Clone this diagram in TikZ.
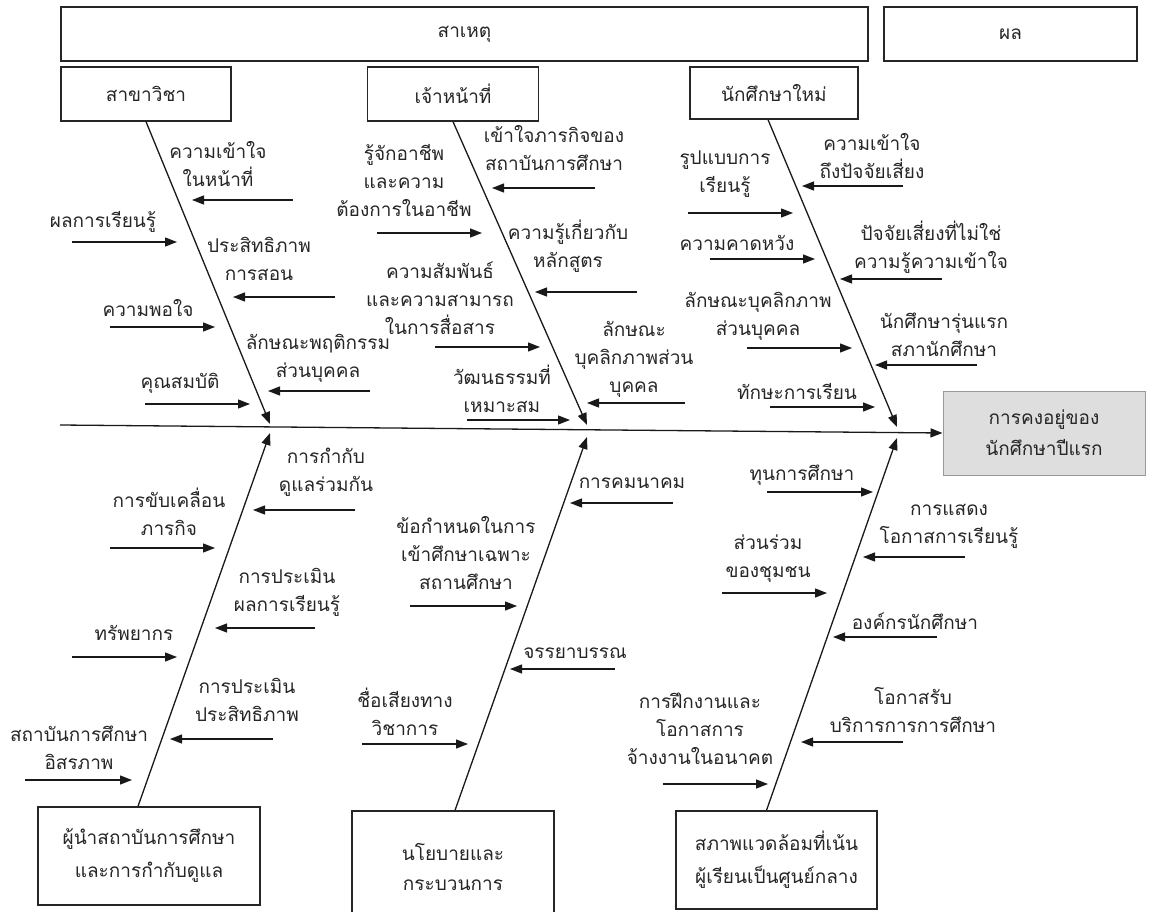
\documentclass[tikz,border=0pt]{standalone}
\usepackage{fontspec}
\newfontfamily\thaifont[Script=Thai]{Loma}
\usetikzlibrary{arrows.meta,calc}
\tikzset{
  tip/.style={-{Triangle[length=12pt,width=9pt]}},
  arr/.style={tip, line width=1.3pt, black!90},
  bone/.style={tip, line width=1.3pt, black!90},
  lbl/.style={font=\thaifont\fontsize{19}{28}\selectfont, align=center, text=black!85, inner sep=0pt},
  box/.style={draw=black!85, line width=1.3pt, fill=white, font=\thaifont\fontsize{19}{33}\selectfont, align=center, text=black!85, inner sep=0pt, anchor=center},
  res/.style={draw=black!40, line width=1pt, fill=black!13, font=\thaifont\fontsize{19}{31}\selectfont, align=center, text=black!85, inner sep=0pt}
}
\begin{document}
\begin{tikzpicture}[x=1pt,y=-1pt]
\useasboundingbox (0,0) rectangle (1149,912);
% header boxes
\node[box, minimum width=807, minimum height=54] (cause) at (464.5,34) {สาเหตุ};
\node[box, minimum width=253, minimum height=54] (effect) at (1010.5,34) {ผล};
\node[box, minimum width=170, minimum height=54] (c1) at (146,94) {สาขาวิชา};
\node[box, minimum width=171, minimum height=54] (c2) at (453,94) {เจ้าหน้าที่};
\node[box, minimum width=168, minimum height=52] (c3) at (774,93) {นักศึกษาใหม่};
% bottom boxes
\node[box, minimum width=222, minimum height=98] (b1) at (149,856) {ผู้นำสถาบันการศึกษา\\และการกำกับดูแล};
\node[box, minimum width=202, minimum height=110] (b2) at (453,866) {};
\node[lbl, font=\thaifont\fontsize{19}{30}\selectfont] (b2t) at (453,867) {นโยบายและ\\กระบวนการ};
\node[box, minimum width=201, minimum height=98] (b3) at (776.5,860) {สภาพแวดล้อมที่เน้น\\ผู้เรียนเป็นศูนย์กลาง};
% result
\node[res, minimum width=202, minimum height=84] (result) at (1044,433) {การคงอยู่ของ\\นักศึกษาปีแรก};
% spine
\coordinate (s0) at (60,425);
\draw[arr] (s0) -- (result.west);
% bones
\coordinate (t1) at (270,424);
\coordinate (t2) at (587,425);
\coordinate (t3) at (897,427);
\coordinate (u1) at (270,433);
\coordinate (u2) at (587,437);
\coordinate (u3) at (897,438);
\draw[bone] (c1.south) -- (t1);
\draw[bone] (c2.south) -- (t2);
\draw[bone] ([xshift=-6pt]c3.south) -- (t3);
\draw[bone] ([xshift=-11pt]b1.north) -- (u1);
\draw[bone] ([xshift=2pt]b2.north) -- (u2);
\draw[bone] ([xshift=-10pt]b3.north) -- (u3);
% ---- top bone 1
\node[lbl] (l11) at (218,164) {ความเข้าใจ\\ในหน้าที่};
\draw[arr] (293,200) -- (192,200);
\node[lbl] (l12) at (103,222) {ผลการเรียนรู้};
\draw[arr] (72,242) -- (177,242);
\node[lbl] (l13) at (259,259) {ประสิทธิภาพ\\การสอน};
\draw[arr] (335,297) -- (233,297);
\node[lbl] (l14) at (148,308) {ความพอใจ};
\draw[arr] (110,327) -- (215,327);
\node[lbl] (l15) at (318,358) {ลักษณะพฤติกรรม\\ส่วนบุคคล};
\draw[arr] (370,391) -- (268,391);
\node[lbl] (l16) at (180,383) {คุณสมบัติ};
\draw[arr] (145,404) -- (250,404);
% ---- top bone 2
\node[lbl] (l21) at (554,148) {เข้าใจภารกิจของ\\สถาบันการศึกษา};
\draw[arr] (595,188) -- (492,188);
\node[lbl] (l22) at (404,181) {รู้จักอาชีพ\\และความ\\ต้องการในอาชีพ};
\draw[arr] (377,233) -- (482,233);
\node[lbl] (l23) at (568,246) {ความรู้เกี่ยวกับ\\หลักสูตร};
\draw[arr] (637,292) -- (535,292);
\node[lbl] (l24) at (440,298) {ความสัมพันธ์\\และความสามารถ\\ในการสื่อสาร};
\draw[arr] (435,347) -- (540,347);
\node[lbl] (l25) at (634,359) {ลักษณะ\\บุคลิกภาพส่วน\\บุคคล};
\draw[arr] (685,403) -- (587,403);
\node[lbl] (l26) at (502,389) {วัฒนธรรมที่\\เหมาะสม};
\draw[arr] (467,420) -- (570,420);
% ---- top bone 3
\node[lbl] (l31) at (872,156) {ความเข้าใจ\\ถึงปัจจัยเสี่ยง};
\draw[arr] (903,186) -- (802,186);
\node[lbl] (l32) at (725,174) {รูปแบบการ\\เรียนรู้};
\draw[arr] (688,213) -- (793,213);
\node[lbl] (l33) at (737,243) {ความคาดหวัง};
\draw[arr] (710,259) -- (815,259);
\node[lbl] (l34) at (931,247) {ปัจจัยเสี่ยงที่ไม่ใช่\\ความรู้ความเข้าใจ};
\draw[arr] (942,279) -- (840,279);
\node[lbl] (l35) at (758,316) {ลักษณะบุคลิกภาพ\\ส่วนบุคคล};
\draw[arr] (747,348) -- (852,348);
\node[lbl] (l36) at (944,335) {นักศึกษารุ่นแรก\\สภานักศึกษา};
\draw[arr] (977,365) -- (875,365);
\node[lbl] (l37) at (797,392) {ทักษะการเรียน};
\draw[arr] (770,407) -- (875,407);
% ---- bottom bone 1
\node[lbl] (m11) at (326,472) {การกำกับ\\ดูแลร่วมกัน};
\draw[arr] (355,510) -- (253,510);
\node[lbl] (m12) at (169,512) {การขับเคลื่อน\\ภารกิจ};
\draw[arr] (110,548) -- (215,548);
\node[lbl] (m13) at (287,592) {การประเมิน\\ผลการเรียนรู้};
\draw[arr] (315,628) -- (215,628);
\node[lbl] (m14) at (134,633) {ทรัพยากร};
\draw[arr] (72,657) -- (177,657);
\node[lbl] (m15) at (247,700) {การประเมิน\\ประสิทธิภาพ};
\draw[arr] (273,739) -- (170,739);
\node[lbl] (m16) at (79,748) {สถาบันการศึกษา\\อิสรภาพ};
\draw[arr] (25,780) -- (132,780);
% ---- bottom bone 2
\node[lbl] (m21) at (632,483) {การคมนาคม};
\draw[arr] (673,503) -- (570,503);
\node[lbl] (m22) at (466,553) {ข้อกำหนดในการ\\เข้าศึกษาเฉพาะ\\สถานศึกษา};
\draw[arr] (410,606) -- (517,606);
\node[lbl] (m23) at (575,653) {จรรยาบรรณ};
\draw[arr] (615,669) -- (510,669);
\node[lbl] (m24) at (405,712) {ชื่อเสียงทาง\\วิชาการ};
\draw[arr] (362,744) -- (468,744);
% ---- bottom bone 3
\node[lbl] (m31) at (802,475) {ทุนการศึกษา};
\draw[arr] (767,492) -- (873,492);
\node[lbl] (m32) at (949,526) {การแสดง\\โอกาสการเรียนรู้};
\draw[arr] (965,557) -- (863,557);
\node[lbl] (m33) at (768,559) {ส่วนร่วม\\ของชุมชน};
\draw[arr] (722,593) -- (827,593);
\node[lbl] (m34) at (915,621) {องค์กรนักศึกษา};
\draw[arr] (937,637) -- (833,637);
\node[lbl] (m35) at (913,710) {โอกาสรับ\\บริการการการศึกษา};
\draw[arr] (903,742) -- (801,742);
\node[lbl] (m36) at (700,729) {การฝึกงานและ\\โอกาสการ\\จ้างงานในอนาคต};
\draw[arr] (663,784) -- (768,784);
\end{tikzpicture}
\end{document}
